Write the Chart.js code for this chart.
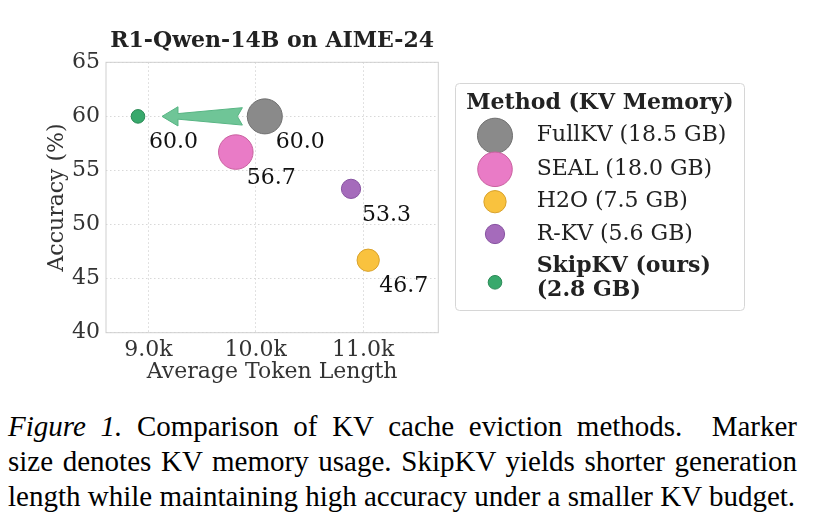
<!DOCTYPE html>
<html>
<head>
<meta charset="utf-8">
<script src="https://cdn.jsdelivr.net/npm/chart.js@4.4.0/dist/chart.umd.min.js"></script>
<style>
  body { margin: 0; background: #fff; width: 816px; height: 528px; overflow: hidden; position: relative; }
  #wrap { position: absolute; left: 0; top: 0; width: 816px; height: 400px; }
  #caption { position: absolute; left: 8px; top: 408.7px; width: 789px;
    font-family: "Liberation Serif", "Times New Roman", serif; font-size: 29px; line-height: 35px; color: #000; }
  #caption div { white-space: nowrap; }
  #caption div.j { white-space: normal; text-align: justify; text-align-last: justify; }
</style>
</head>
<body>
<div id="wrap"><canvas id="chart" width="816" height="400"></canvas></div>
<div id="caption">
  <div class="j"><i>Figure 1.</i> Comparison of KV cache eviction methods. &nbsp;Marker</div>
  <div class="j">size denotes KV memory usage. SkipKV yields shorter generation</div>
  <div>length while maintaining high accuracy under a smaller KV budget.</div>
</div>
<script>
/* ------------------------------------------------------------
   datos
   ------------------------------------------------------------ */
const methods = ["FullKV", "SEAL", "H2O", "R-KV", "SkipKV (ours)"];
const memoryGB = [18.5, 18.0, 7.5, 5.6, 2.8];
const tokenLength = [10084, 9814, 11047, 10887, 8903];
const accuracy = [60.0, 56.7, 46.7, 53.3, 60.0];

const xTicks = [9000, 10000, 11000];
const xTickLabels = ["9.0k", "10.0k", "11.0k"];
const yTicks = [40, 45, 50, 55, 60, 65];

const chartTitle = "R1-Qwen-14B on AIME-24";
const legendTitle = "Method (KV Memory)";

// flecha: de FullKV hacia SkipKV
const arrowFrom = 0;
const arrowTo = 4;

/* ------------------------------------------------------------
   estilos
   ------------------------------------------------------------ */
const fills = ["#8a8a8a", "#e97bc6", "#f9c23e", "#a56bbb", "#38a96c"];
const edges = ["#707070", "#c9619f", "#d9a22c", "#8753a1", "#2b8a56"];
const SERIF = "'DejaVu Serif', serif";

// tamaño del marcador proporcional a la memoria (área)
function radiusFor(gb) {
    return 4.07 * Math.sqrt(gb);
}

const datasets = methods.map((m, i) => ({
    label: m,
    data: [{ x: tokenLength[i], y: accuracy[i] }],
    backgroundColor: fills[i],
    borderColor: edges[i],
    borderWidth: 1,
    pointRadius: radiusFor(memoryGB[i]),
    pointHoverRadius: radiusFor(memoryGB[i])
}));

/* ------------------------------------------------------------
   plugin: borde, flecha, etiquetas, leyenda
   ------------------------------------------------------------ */
const extras = {
    id: "extras",
    beforeDatasetsDraw(chart) {
        const ctx = chart.ctx;
        const a = chart.chartArea;

        // marco del área
        ctx.save();
        ctx.strokeStyle = "#d0d0d0";
        ctx.lineWidth = 1;
        ctx.strokeRect(a.left, a.top, a.right - a.left, a.bottom - a.top);
        ctx.restore();

        // flecha
        const p0 = chart.getDatasetMeta(arrowFrom).data[0];
        const p1 = chart.getDatasetMeta(arrowTo).data[0];
        const dx = p1.x - p0.x, dy = p1.y - p0.y;
        const d = Math.hypot(dx, dy);
        const ux = dx / d, uy = dy / d;
        const vx = -uy, vy = ux;
        const tipX = p1.x - ux * 24, tipY = p1.y - uy * 24;
        const L = d - 24 - 22.4;
        const pt = (s, t) => [tipX - ux * s + vx * t, tipY - uy * s + vy * t];
        const shape = [
            pt(0, 0), pt(16, -9.6), pt(16, -2.8), pt(L, -8.7),
            pt(L - 5, 0), pt(L, 8.7), pt(16, 2.8), pt(16, 9.6)
        ];
        ctx.save();
        ctx.beginPath();
        shape.forEach(([x, y], k) => k ? ctx.lineTo(x, y) : ctx.moveTo(x, y));
        ctx.closePath();
        ctx.fillStyle = "#6fc597";
        ctx.strokeStyle = "#58b584";
        ctx.lineWidth = 1;
        ctx.fill();
        ctx.stroke();
        ctx.restore();
    },
    afterDatasetsDraw(chart) {
        const ctx = chart.ctx;
        ctx.save();
        ctx.font = "22px " + SERIF;
        ctx.fillStyle = "#111";
        ctx.textAlign = "left";
        ctx.textBaseline = "middle";
        methods.forEach((m, i) => {
            const p = chart.getDatasetMeta(i).data[0];
            ctx.fillText(accuracy[i].toFixed(1), p.x + 11, p.y + 26);
        });
        ctx.restore();
    },
    afterDraw(chart) {
        const ctx = chart.ctx;
        const a = chart.chartArea;

        // título
        ctx.save();
        ctx.font = "bold 22px " + SERIF;
        ctx.fillStyle = "#222";
        ctx.textAlign = "center";
        ctx.textBaseline = "middle";
        ctx.fillText(chartTitle, (a.left + a.right) / 2, 41.5);
        ctx.restore();

        // leyenda
        const bx = 455.5, by = 83.5, bw = 289, bh = 227;
        ctx.save();
        ctx.beginPath();
        ctx.roundRect(bx, by, bw, bh, 4);
        ctx.fillStyle = "#fff";
        ctx.fill();
        ctx.strokeStyle = "#d6d6d6";
        ctx.lineWidth = 1;
        ctx.stroke();

        ctx.fillStyle = "#222";
        ctx.textAlign = "center";
        ctx.textBaseline = "middle";
        ctx.font = "bold 22px " + SERIF;
        ctx.fillText(legendTitle, bx + bw / 2, 103.5);

        const rowY = [135.7, 169.3, 201.7, 234, 282.3];
        const mx = 495, tx = 536.7;
        ctx.textAlign = "left";
        methods.forEach((m, i) => {
            ctx.beginPath();
            ctx.arc(mx, rowY[i], radiusFor(memoryGB[i]), 0, Math.PI * 2);
            ctx.fillStyle = fills[i];
            ctx.fill();
            ctx.strokeStyle = edges[i];
            ctx.stroke();

            ctx.fillStyle = "#222";
            const gb = "(" + memoryGB[i].toFixed(1) + " GB)";
            if (i === methods.length - 1) {
                ctx.font = "bold 22px " + SERIF;
                ctx.fillText(m, tx, rowY[i] - 16);
                ctx.fillText(gb, tx, rowY[i] + 8);
            } else {
                ctx.font = "22px " + SERIF;
                ctx.fillText(m + " " + gb, tx, rowY[i]);
            }
        });
        ctx.restore();
    }
};

/* ------------------------------------------------------------
   gráfico
   ------------------------------------------------------------ */
new Chart(document.getElementById("chart"), {
    type: "scatter",
    data: { datasets },
    options: {
        responsive: false,
        animation: false,
        events: [],
        layout: { padding: { top: 62.3, right: 377.7, bottom: 0, left: 0 } },
        plugins: { legend: { display: false }, tooltip: { enabled: false }, title: { display: false } },
        scales: {
            x: {
                type: "linear",
                min: 8605,
                max: 11700,
                afterBuildTicks: s => { s.ticks = xTicks.map(v => ({ value: v })); },
                afterFit: s => { s.height = 67.3; },
                ticks: {
                    callback: v => xTickLabels[xTicks.indexOf(v)],
                    font: { family: SERIF, size: 22 },
                    color: "#333",
                    padding: 4,
                    maxRotation: 0
                },
                grid: { color: "#d8d8d8", lineWidth: 1, drawTicks: false },
                border: { display: false, dash: [1.5, 2.5] },
                title: {
                    display: true,
                    text: "Average Token Length",
                    font: { family: SERIF, size: 22 },
                    color: "#333",
                    padding: { top: 0, bottom: 14.8 }
                }
            },
            y: {
                min: 40,
                max: 65,
                afterBuildTicks: s => { s.ticks = yTicks.map(v => ({ value: v })); },
                afterFit: s => { s.width = 106; },
                ticks: {
                    font: { family: SERIF, size: 22 },
                    color: "#333",
                    padding: 6
                },
                grid: { color: "#d8d8d8", lineWidth: 1, drawTicks: false },
                border: { display: false, dash: [1.5, 2.5] },
                title: {
                    display: true,
                    text: "Accuracy (%)",
                    font: { family: SERIF, size: 22 },
                    color: "#333",
                    padding: { top: 43.8, bottom: 0 }
                }
            }
        }
    },
    plugins: [extras]
});
</script>
</body>
</html>
